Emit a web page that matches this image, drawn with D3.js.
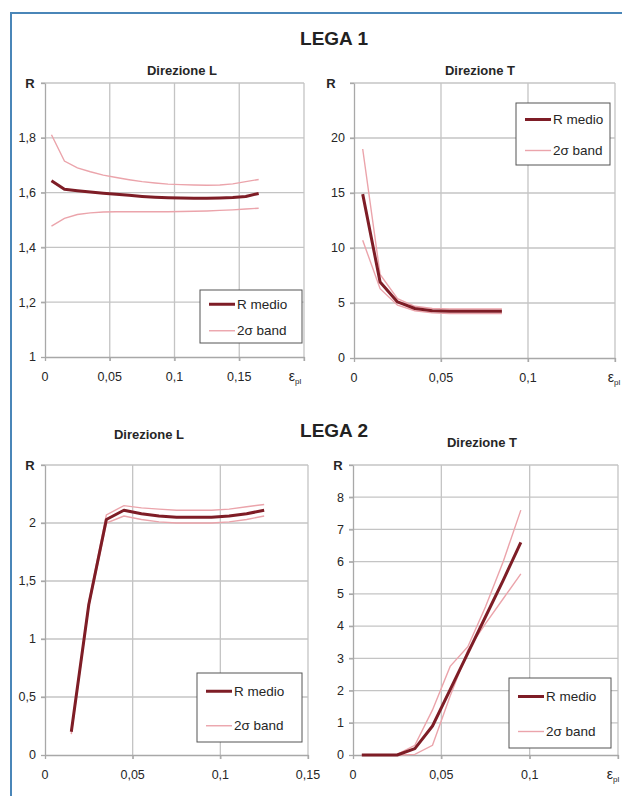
<!DOCTYPE html>
<html>
<head>
<meta charset="utf-8">
<script src="https://cdn.jsdelivr.net/npm/d3@7"></script>
<style>
  body { margin: 0; background: #fff; }
  svg { display: block; font-family: "Liberation Sans", Arial, sans-serif; }
  .tick-label { font-size: 12.5px; fill: #262626; }
  .title { font-size: 13px; font-weight: bold; fill: #262626; }
  .lega { font-size: 19px; font-weight: bold; fill: #222; }
  .legend-text { font-size: 13.5px; fill: #262626; }
</style>
</head>
<body>
<div id="chart-area"></div>
<script>

// LEGA 1 - Direzione L
let l1L_x = [0.005, 0.015, 0.025, 0.035, 0.045, 0.055, 0.065, 0.075, 0.085, 0.095, 0.105, 0.115, 0.125, 0.135, 0.145, 0.155, 0.165];
let l1L_mean = [1.643, 1.612, 1.607, 1.602, 1.598, 1.594, 1.590, 1.586, 1.583, 1.581, 1.580, 1.579, 1.579, 1.580, 1.582, 1.586, 1.597];
let l1L_up = [1.811, 1.715, 1.690, 1.676, 1.664, 1.655, 1.647, 1.640, 1.635, 1.631, 1.629, 1.628, 1.627, 1.628, 1.632, 1.640, 1.648];
let l1L_low = [1.478, 1.506, 1.520, 1.526, 1.529, 1.530, 1.530, 1.530, 1.530, 1.530, 1.531, 1.532, 1.533, 1.535, 1.537, 1.540, 1.543];

// LEGA 1 - Direzione T
let l1T_x = [0.005, 0.015, 0.025, 0.035, 0.045, 0.055, 0.065, 0.075, 0.085];
let l1T_mean = [14.9, 6.9, 5.1, 4.5, 4.3, 4.25, 4.25, 4.25, 4.25];
let l1T_up = [19.0, 7.6, 5.4, 4.7, 4.5, 4.45, 4.45, 4.45, 4.45];
let l1T_low = [10.7, 6.3, 4.8, 4.3, 4.1, 4.05, 4.05, 4.05, 4.05];

// LEGA 2 - Direzione L
let l2L_x = [0.015, 0.025, 0.035, 0.045, 0.055, 0.065, 0.075, 0.085, 0.095, 0.105, 0.115, 0.125];
let l2L_mean = [0.2, 1.3, 2.03, 2.11, 2.08, 2.06, 2.05, 2.05, 2.05, 2.06, 2.08, 2.11];
let l2L_up = [0.2, 1.32, 2.07, 2.15, 2.13, 2.12, 2.11, 2.11, 2.11, 2.12, 2.14, 2.16];
let l2L_low = [0.18, 1.28, 2.0, 2.06, 2.03, 2.01, 2.0, 2.0, 2.0, 2.01, 2.03, 2.06];

// LEGA 2 - Direzione T
let l2T_x = [0.005, 0.015, 0.025, 0.035, 0.045, 0.055, 0.065, 0.075, 0.085, 0.095];
let l2T_mean = [0, 0, 0, 0.2, 0.9, 2.03, 3.16, 4.29, 5.42, 6.6];
let l2T_up = [0, 0, 0.02, 0.3, 1.4, 2.75, 3.36, 4.6, 6.0, 7.6];
let l2T_low = [0, 0, 0, 0.02, 0.3, 1.83, 3.26, 4.08, 4.85, 5.62];

// tick values
let xTicksL1 = [0, 0.05, 0.1, 0.15, 0.2];
let xLabelsL1 = [0, 0.05, 0.1, 0.15];
let yTicksL1 = [1, 1.2, 1.4, 1.6, 1.8, 2];
let yLabelsL1 = [1, 1.2, 1.4, 1.6, 1.8];

let xTicks015 = [0, 0.05, 0.1, 0.15];
let xLabelsT = [0, 0.05, 0.1];
let xLabelsL2 = [0, 0.05, 0.1, 0.15];

let yTicksT1 = [0, 5, 10, 15, 20, 25];
let yLabelsT1 = [0, 5, 10, 15, 20];
let yTicksL2 = [0, 0.5, 1, 1.5, 2, 2.5];
let yLabelsL2 = [0, 0.5, 1, 1.5, 2];
let yTicksT2 = [0, 1, 2, 3, 4, 5, 6, 7, 8, 9];
let yLabelsT2 = [0, 1, 2, 3, 4, 5, 6, 7, 8];

let meanColor = "#7e1d26";
let bandColor = "#eba4ab";
let gridColor = "#c4c4c4";

let svg = d3.select("#chart-area").append("svg")
    .attr("width", 622)
    .attr("height", 796);

// blue frame (left + top)
svg.append("path")
    .attr("d", "M11,796 L11,13 L622,13")
    .attr("fill", "none")
    .attr("stroke", "#4a86b8")
    .attr("stroke-width", 2);

svg.append("text").attr("class", "lega")
    .attr("x", 334).attr("y", 45).attr("text-anchor", "middle").text("LEGA 1");
svg.append("text").attr("class", "lega")
    .attr("x", 334).attr("y", 437).attr("text-anchor", "middle").text("LEGA 2");

let fmt = d => String(d).replace(".", ",");

function drawPanel(p) {
    let x = d3.scaleLinear().domain(p.xDomain).range([p.left, p.right]);
    let y = d3.scaleLinear().domain(p.yDomain).range([p.bottom, p.top]);
    let g = svg.append("g");

    // grid
    g.selectAll(".hgrid").data(p.yTicks.slice(1)).enter().append("line")
        .attr("x1", p.left - 4).attr("x2", p.right)
        .attr("y1", d => y(d)).attr("y2", d => y(d))
        .attr("stroke", gridColor).attr("stroke-width", 1.3);
    g.selectAll(".vgrid").data(p.xTicks.slice(1)).enter().append("line")
        .attr("x1", d => x(d)).attr("x2", d => x(d))
        .attr("y1", p.top).attr("y2", p.bottom + 4)
        .attr("stroke", gridColor).attr("stroke-width", 1.3);

    // axes with outward ticks
    g.append("g")
        .attr("transform", `translate(${p.left},0)`)
        .call(d3.axisLeft(y).tickValues(p.yTicks).tickSize(4).tickSizeOuter(0).tickFormat(""));
    g.append("g")
        .attr("transform", `translate(0,${p.bottom})`)
        .call(d3.axisBottom(x).tickValues(p.xTicks).tickSize(4).tickSizeOuter(0).tickFormat(""));
    g.selectAll(".domain, .tick line").attr("stroke", "#a8a8a8").attr("stroke-width", 1.3);

    // tick labels
    g.selectAll(".ylab").data(p.yLabels).enter().append("text")
        .attr("class", "tick-label")
        .attr("x", p.left - 9).attr("y", d => y(d)).attr("dy", "0.35em")
        .attr("text-anchor", "end").text(fmt);
    g.selectAll(".xlab").data(p.xLabels).enter().append("text")
        .attr("class", "tick-label")
        .attr("x", d => x(d)).attr("y", p.bottom + 24)
        .attr("text-anchor", "middle").text(fmt);

    // axis titles
    g.append("text").attr("class", "title")
        .attr("x", p.rx).attr("y", p.top + 5).attr("text-anchor", "middle").text("R");
    if (p.epsX) {
        let t = g.append("text").attr("class", "tick-label")
            .attr("x", p.epsX).attr("y", p.bottom + 24).attr("text-anchor", "middle");
        t.append("tspan").attr("font-size", "14px").text("ε");
        t.append("tspan").attr("font-size", "8px").attr("dy", 3).text("pl");
    }
    g.append("text").attr("class", "title")
        .attr("x", p.titleX).attr("y", p.titleY).attr("text-anchor", "middle").text(p.title);

    // series
    let line = d3.line().x(d => x(d[0])).y(d => y(d[1]));
    [p.low, p.up].forEach(s => {
        g.append("path")
            .datum(d3.zip(p.xs, s))
            .attr("d", line)
            .attr("fill", "none")
            .attr("stroke", bandColor)
            .attr("stroke-width", 1.4);
    });
    g.append("path")
        .datum(d3.zip(p.xs, p.mean))
        .attr("d", line)
        .attr("fill", "none")
        .attr("stroke", meanColor)
        .attr("stroke-width", 3)
        .attr("stroke-linejoin", "round");

    // legend
    let lg = g.append("g").attr("transform", `translate(${p.legend[0]},${p.legend[1]})`);
    lg.append("rect")
        .attr("width", p.legend[2]).attr("height", p.legend[3])
        .attr("fill", "#fff").attr("stroke", "#555").attr("stroke-width", 1);
    let rows = [["R medio", meanColor, 3], ["2σ band", bandColor, 1.4]];
    let gap = p.legend[3] / 2;
    rows.forEach((r, i) => {
        let yy = gap * (i + 0.5) + 1;
        lg.append("line")
            .attr("x1", 9).attr("x2", 35).attr("y1", yy).attr("y2", yy)
            .attr("stroke", r[1]).attr("stroke-width", r[2]);
        lg.append("text").attr("class", "legend-text")
            .attr("x", 37).attr("y", yy).attr("dy", "0.35em").text(r[0]);
    });
}

drawPanel({
    left: 45, right: 304, top: 83, bottom: 357,
    xDomain: [0, 0.2], yDomain: [1, 2],
    xTicks: xTicksL1, xLabels: xLabelsL1, yTicks: yTicksL1, yLabels: yLabelsL1,
    xs: l1L_x, mean: l1L_mean, up: l1L_up, low: l1L_low,
    title: "Direzione L", titleX: 182, titleY: 75, rx: 30, epsX: 295,
    legend: [200, 290, 102, 53]
});

drawPanel({
    left: 354, right: 615, top: 83, bottom: 358,
    xDomain: [0, 0.15], yDomain: [0, 25],
    xTicks: xTicks015, xLabels: xLabelsT, yTicks: yTicksT1, yLabels: yLabelsT1,
    xs: l1T_x, mean: l1T_mean, up: l1T_up, low: l1T_low,
    title: "Direzione T", titleX: 480, titleY: 75, rx: 331, epsX: 614,
    legend: [516, 103, 94, 62]
});

drawPanel({
    left: 45, right: 308, top: 465, bottom: 755,
    xDomain: [0, 0.15], yDomain: [0, 2.5],
    xTicks: xTicks015, xLabels: xLabelsL2, yTicks: yTicksL2, yLabels: yLabelsL2,
    xs: l2L_x, mean: l2L_mean, up: l2L_up, low: l2L_low,
    title: "Direzione L", titleX: 149, titleY: 439, rx: 30, epsX: null,
    legend: [197, 673, 105, 69]
});

drawPanel({
    left: 353, right: 618, top: 465, bottom: 755,
    xDomain: [0, 0.15], yDomain: [0, 9],
    xTicks: xTicks015, xLabels: xLabelsT, yTicks: yTicksT2, yLabels: yLabelsT2,
    xs: l2T_x, mean: l2T_mean, up: l2T_up, low: l2T_low,
    title: "Direzione T", titleX: 482, titleY: 447, rx: 338, epsX: 613,
    legend: [509, 678, 102, 70]
});

</script>
</body>
</html>
